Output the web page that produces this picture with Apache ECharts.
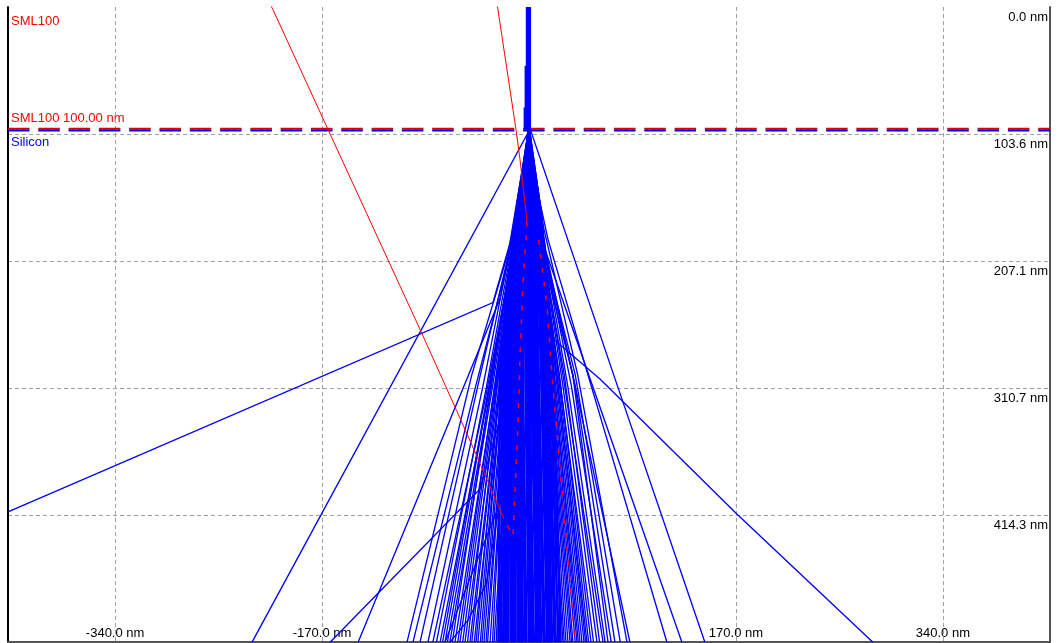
<!DOCTYPE html>
<html><head><meta charset="utf-8">
<script src="https://cdn.jsdelivr.net/npm/echarts@6/dist/echarts.min.js"></script>
<style>html,body{margin:0;padding:0;background:#fff}#c{width:1058px;height:643px}</style>
</head><body><div id="c"></div>
<script>
// ---- axis definitions (nm) ----
const xRange = [-428, 428];
const yRange = [0, 517.85];
const xTickValues = [-340, -170, 0, 170, 340];
const yTickValues = [0, 103.57, 207.14, 310.71, 414.28];
const yTickLabels = ['0.0 nm', '103.6 nm', '207.1 nm', '310.7 nm', '414.3 nm'];

// ---- layers ----
const layerDepth = 100;               // SML100 / Silicon interface (nm)
const layerTopName = 'SML100';
const layerInterfaceLabel = 'SML100 100.00 nm';
const layerBottomName = 'Silicon';

// ---- incident beam in the resist (x nm, depth nm) ----
const beamPaths = [
  [[0, 0], [0, 100]],
  [[-0.9, 0], [-0.9, 100]],
  [[-1.8, 0], [-1.8, 100]],
  [[0.9, 0], [0.9, 100]],
  [[-2.8, 48], [-2.8, 100]],
  [[-3.6, 82], [-3.6, 100]]
];

// ---- dense core of transmitted trajectories in silicon ----
const coreTrajectories = [
  [[0,100],[-11,170],[-24,300],[-25,518]],
  [[0,100],[-10,170],[-22,300],[-23,518]],
  [[0,100],[-10,170],[-21,300],[-21,518]],
  [[0,100],[-9,170],[-20,300],[-20,518]],
  [[0,100],[-9,170],[-18,300],[-18,518]],
  [[0,100],[-8,170],[-17,300],[-17,518]],
  [[0,100],[-7,170],[-16,300],[-15,518]],
  [[0,100],[-7,170],[-15,300],[-14,518]],
  [[0,100],[-6,170],[-13,300],[-12,518]],
  [[0,100],[-5,170],[-12,300],[-11,518]],
  [[0,100],[-5,170],[-11,300],[-9,518]],
  [[0,100],[-4,170],[-10,300],[-8,518]],
  [[0,100],[-3,170],[-8,300],[-6,518]],
  [[0,100],[-3,170],[-7,300],[-5,518]],
  [[0,100],[-2,170],[-6,300],[-3,518]],
  [[0,100],[-1,170],[-5,300],[-2,518]],
  [[0,100],[-1,170],[-3,300],[0,518]],
  [[0,100],[0,170],[-2,300],[1,518]],
  [[0,100],[0,170],[-1,300],[3,518]],
  [[0,100],[1,170],[0,300],[4,518]],
  [[0,100],[2,170],[2,300],[6,518]],
  [[0,100],[2,170],[3,300],[7,518]],
  [[0,100],[3,170],[4,300],[9,518]],
  [[0,100],[4,170],[6,300],[10,518]],
  [[0,100],[4,170],[7,300],[12,518]],
  [[0,100],[5,170],[8,300],[13,518]],
  [[0,100],[6,170],[10,300],[15,518]],
  [[0,100],[6,170],[11,300],[16,518]],
  [[0,100],[7,170],[12,300],[18,518]],
  [[0,100],[8,170],[14,300],[19,518]],
  [[0,100],[8,170],[15,300],[21,518]],
  [[0,100],[9,170],[16,300],[22,518]],
  [[0,100],[10,170],[18,300],[24,518]],
  [[0,100],[10,170],[20,300],[26,518]],
  [[0,100],[-8,170],[-19,300],[-19,518]],
  [[0,100],[-4,170],[-9,300],[-7,518]],
  [[0,100],[2,170],[1,300],[2,518]],
  [[0,100],[6,170],[13,300],[17,518]],
  [[0,100],[-6,170],[-14,300],[-13,518]],
  [[0,100],[3,170],[5,300],[8,518]]
];

// ---- fringe trajectories, left side ----
const leftTrajectories = [
  [[0,100],[-6,180],[-12,300],[-19,518]],
  [[0,100],[-6,175],[-14,290],[-21,518]],
  [[0,100],[-5,170],[-13,310],[-22,518]],
  [[0,100],[-7,185],[-16,300],[-24,518]],
  [[0,100],[-7,190],[-15,320],[-25.5,518]],
  [[0,100],[-8,195],[-17,310],[-27,518]],
  [[0,100],[-6,200],[-14,300],[-28.7,518]],
  [[0,100],[-9,180],[-18,290],[-30,518]],
  [[0,100],[-8,200],[-17,300],[-32,518]],
  [[0,100],[-9,190],[-19,310],[-34,518]],
  [[0,100],[-9,190],[-19,310],[-35.3,518]],
  [[0,100],[-10,205],[-21,320],[-37,518]],
  [[0,100],[-7,170],[-20,300],[-38.6,518]],
  [[0,100],[-9,175],[-22,305],[-40,518]],
  [[0,100],[-10,200],[-21,300],[-42,518]],
  [[0,100],[-11,195],[-23,300],[-43.5,518]],
  [[0,100],[-9,180],[-23,320],[-45,518]],
  [[0,100],[-12,210],[-25,320],[-47,518]],
  [[0,100],[-11,200],[-24,310],[-48.5,518]],
  [[0,100],[-10,185],[-25,300],[-50.5,518]],
  [[0,100],[-10,190],[-26,320],[-52.6,518]],
  [[0,100],[-13,210],[-28,320],[-54.5,518]],
  [[0,100],[-12,200],[-26,300],[-56.7,518]],
  [[0,100],[-12,195],[-27,300],[-58.5,518]],
  [[0,100],[-11,180],[-28,310],[-60.8,518]],
  [[0,100],[-14,205],[-30,300],[-63,518]],
  [[0,100],[-13,200],[-30,310],[-65,518]],
  [[0,100],[-13,190],[-31,310],[-67,518]],
  [[0,100],[-12,190],[-31,300],[-69,518]],
  [[0,100],[-15,210],[-33,310],[-71,518]],
  [[0,100],[-14,200],[-34,320],[-73,518]],
  [[0,100],[-15,200],[-35,310],[-76,518]],
  [[0,100],[-15,210],[-36,320],[-79,518]],
  [[0,100],[-16,200],[-38,310],[-83,518]],
  [[0,100],[-14,190],[-40,300],[-89.5,518]],
  [[0,100],[-18,210],[-44,310],[-95.3,518]],
  [[0,100],[-17,200],[-47,300],[-100.2,518]],
  [[0,100],[-10,260],[-22,400],[-48.5,466],[-69,518]],
  [[0,100],[-9,250],[-20,380],[-35,470],[-50,500],[-65,518]],
  [[0,100],[-12,180],[-29.6,241],[-428,411.8]],
  [[0,100],[-1.6,104],[-227.5,518]],
  [[0,100],[-10,170],[-23.8,238],[-140.4,518]],
  [[0,100],[-8,200],[-22,330],[-40.2,393],[-163.4,518]]
];

// ---- fringe trajectories, right side ----
const rightTrajectories = [
  [[0,100],[5,180],[12,300],[25.5,518]],
  [[0,100],[6,190],[14,310],[27.9,518]],
  [[0,100],[6,185],[14,300],[29,518]],
  [[0,100],[6,170],[15,300],[30.4,518]],
  [[0,100],[7,195],[16,300],[32,518]],
  [[0,100],[7,190],[17,310],[33.7,518]],
  [[0,100],[8,185],[17,300],[35,518]],
  [[0,100],[8,200],[18,300],[36.1,518]],
  [[0,100],[8,195],[19,310],[38,518]],
  [[0,100],[7,180],[19,300],[39.4,518]],
  [[0,100],[9,190],[20,300],[40.5,518]],
  [[0,100],[9,200],[21,310],[41.9,518]],
  [[0,100],[9,190],[22,310],[43.5,518]],
  [[0,100],[8,180],[22,300],[45.2,518]],
  [[0,100],[10,195],[23,300],[46.5,518]],
  [[0,100],[10,200],[24,310],[47.6,518]],
  [[0,100],[10,190],[24,300],[49,518]],
  [[0,100],[11,210],[25,300],[50.9,518]],
  [[0,100],[11,200],[26,310],[53,518]],
  [[0,100],[10,190],[28,310],[55.8,518]],
  [[0,100],[12,205],[29,300],[58,518]],
  [[0,100],[12,200],[31,320],[60.8,518]],
  [[0,100],[12,195],[32,310],[62.5,518]],
  [[0,100],[13,210],[36,300],[64.9,518]],
  [[0,100],[13,200],[35,310],[67.5,518]],
  [[0,100],[14,200],[38,310],[70.6,518]],
  [[0,100],[14,205],[38,300],[75,518]],
  [[0,100],[12,180],[40,300],[80.5,518]],
  [[0,100],[15,210],[36,300],[82.9,518]],
  [[1.5,101],[73,310],[144.5,518]],
  [[0,100],[8,200],[15.6,267],[58.3,303.4],[171.6,414.3],[282.5,518]],
  [[0,100],[6,150],[13.1,197.6],[125.6,518]],
  [[0,100],[7,150],[15.6,189.5],[113.3,518]]
];

// ---- backscattered trajectories (red) ----
const backscatteredVisible = [
  [[-20.5,417.5],[-42.95,366],[-59.4,329.3],[-88.1,266],[-165.1,99.9],[-210.3,2.2],[-212,-1]],
  [[-1.6,174.8],[-7.4,124.3],[-10.7,99.9],[-25.5,2.2],[-26,-1]]
];
const backscatteredInCore = [
  [[-1.6,174.8],[-4.9,224.5],[-7.4,284.8],[-9,338.5],[-13.1,431.4],[-20.5,417.5]],
  [[8,190],[14.8,244],[18.9,301],[27.9,403.7],[37.8,518]]
];

const toLines = paths => paths.map(p => ({ coords: p }));
const FONT = '"Liberation Sans", Arial, sans-serif';

const chart = echarts.init(document.getElementById('c'), null, { renderer: 'canvas' });
const linesBase = { type: 'lines', coordinateSystem: 'cartesian2d', polyline: true, silent: true, clip: true };

chart.setOption({
  animation: false,
  backgroundColor: '#ffffff',
  grid: { left: 8, right: 8, top: 7, bottom: 1 },
  xAxis: {
    type: 'value', min: xRange[0], max: xRange[1], position: 'bottom',
    axisLine: { show: true, onZero: false, lineStyle: { color: '#555', width: 2 } },
    axisTick: { show: false, customValues: xTickValues },
    axisLabel: { inside: true, margin: 2, customValues: xTickValues, color: '#000', fontSize: 13, fontFamily: FONT,
      formatter: v => v.toFixed(1) + ' nm' },
    splitLine: { show: true, lineStyle: { color: '#a0a0a0', width: 1, type: [4, 3] } }
  },
  yAxis: [{
    type: 'value', inverse: true, min: yRange[0], max: yRange[1], position: 'right',
    axisLine: { show: true, onZero: false, lineStyle: { color: '#555', width: 2 } },
    axisTick: { show: false, customValues: yTickValues.slice(1) },
    axisLabel: { inside: true, margin: 2, customValues: yTickValues, color: '#000', fontSize: 13, fontFamily: FONT,
      verticalAlign: 'top', align: 'right', padding: [4, 0, 0, 0],
      formatter: v => yTickLabels[yTickValues.indexOf(v)] || '' },
    splitLine: { show: true, lineStyle: { color: '#a0a0a0', width: 1, type: [4, 3] } }
  }, {
    type: 'value', inverse: true, min: yRange[0], max: yRange[1], position: 'left',
    axisLine: { show: true, onZero: false, lineStyle: { color: '#000', width: 2 } },
    axisTick: { show: false }, axisLabel: { show: false }, splitLine: { show: false }
  }],
  graphic: [
    { type: 'text', left: 11, top: 15, silent: true, style: { text: layerTopName, fill: '#ff0000', font: '13px ' + FONT } },
    { type: 'text', left: 11, top: 112, silent: true, style: { text: layerInterfaceLabel, fill: '#ff0000', font: '13px ' + FONT } },
    { type: 'text', left: 11, top: 136, silent: true, style: { text: layerBottomName, fill: '#0000ff', font: '13px ' + FONT } }
  ],
  series: [
    Object.assign({}, linesBase, { name: 'interface-red', z: 2,
      data: toLines([[[xRange[0], layerDepth - 0.8], [xRange[1], layerDepth - 0.8]]]),
      lineStyle: { color: '#e00000', width: 2, type: [21.5, 8.8], opacity: 1 } }),
    Object.assign({}, linesBase, { name: 'interface-blue', z: 2,
      data: toLines([[[xRange[0], layerDepth + 0.7], [xRange[1], layerDepth + 0.7]]]),
      lineStyle: { color: '#0000ff', width: 2, type: [21.5, 8.8], opacity: 1 } }),
    Object.assign({}, linesBase, { name: 'beam', z: 3, data: toLines(beamPaths),
      lineStyle: { color: '#0000ff', width: 2, opacity: 1 } }),
    Object.assign({}, linesBase, { name: 'core', z: 3, data: toLines(coreTrajectories),
      lineStyle: { color: '#0000ff', width: 2.5, opacity: 1 } }),
    Object.assign({}, linesBase, { name: 'left', z: 3, data: toLines(leftTrajectories),
      lineStyle: { color: '#0000ff', width: 1.35, opacity: 1 } }),
    Object.assign({}, linesBase, { name: 'right', z: 3, data: toLines(rightTrajectories),
      lineStyle: { color: '#0000ff', width: 1.35, opacity: 1 } }),
    Object.assign({}, linesBase, { name: 'bse-core', z: 4, data: toLines(backscatteredInCore),
      lineStyle: { color: '#ff0000', width: 1.5, type: [5, 9], opacity: 1 } }),
    Object.assign({}, linesBase, { name: 'bse', z: 4, data: toLines(backscatteredVisible),
      lineStyle: { color: '#ff0000', width: 1, opacity: 1 } })
  ]
});
</script></body></html>
